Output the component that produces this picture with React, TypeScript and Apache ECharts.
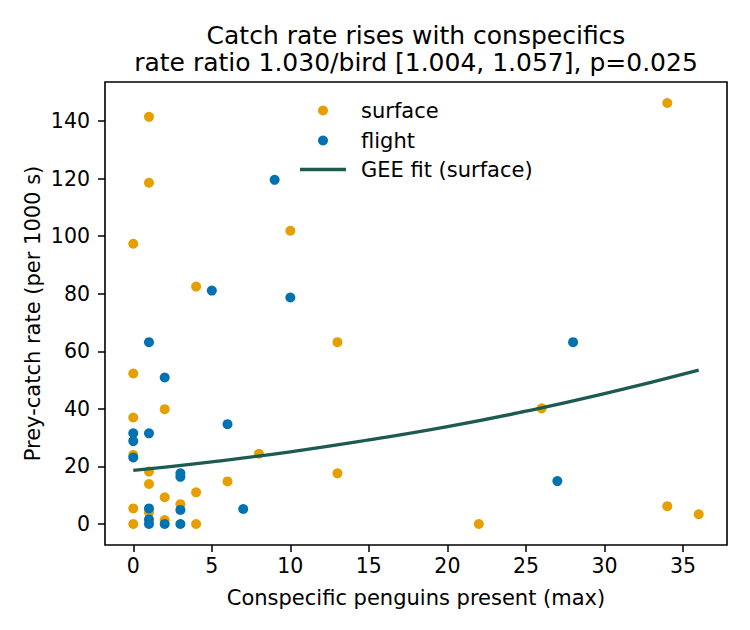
import React, { useRef, useEffect } from 'react';
import * as echarts from 'echarts';

// surface (orange) observations
const surfaceX = [0, 2, 0, 0, 1, 1, 2, 4, 3, 6, 8, 0, 1, 0, 2, 4, 1, 1, 0, 4, 10, 13, 34, 26, 13, 22, 34, 36];
const surfaceY = [52.3, 39.9, 37.0, 24.0, 18.2, 13.9, 9.3, 11.0, 6.9, 14.8, 24.4, 5.4, 4.0, 0, 1.4, 0, 141.5, 118.6, 97.4, 82.5, 101.9, 63.2, 146.3, 40.2, 17.6, 0, 6.2, 3.4];

// flight (blue) observations
const flightX = [1, 2, 0, 1, 0, 0, 6, 3, 3, 1, 3, 7, 1, 1, 2, 3, 9, 5, 10, 28, 27];
const flightY = [63.2, 50.9, 31.5, 31.5, 28.8, 23.1, 34.7, 17.6, 16.4, 5.4, 4.9, 5.2, 1.6, 0, 0, 0, 119.6, 81.1, 78.7, 63.2, 14.9];

// GEE fit curve
const fitX = [0, 5, 10, 15, 20, 25, 30, 36];
const fitY = [18.6, 21.6, 25.1, 29.2, 33.8, 39.2, 45.3, 53.5];

const xTicks = [0, 5, 10, 15, 20, 25, 30, 35];
const yTicks = [0, 20, 40, 60, 80, 100, 120, 140];

const titleLines = ['Catch rate rises with conspecifics', 'rate ratio 1.030/bird [1.004, 1.057], p=0.025'];

const ORANGE = '#E69F00';
const BLUE = '#0072B2';
const FIT = '#1d5b51';
const FONT = 'DejaVu Sans';

const App: React.FC = () => {
  const chartRef = useRef<HTMLDivElement>(null);

  useEffect(() => {
    document.body.style.margin = '0';
    if (!chartRef.current) return;
    const chart = echarts.init(chartRef.current, null, { renderer: 'svg' });

    const legendItems = [
      { label: 'surface', kind: 'dot', color: ORANGE, y: 110.5 },
      { label: 'flight', kind: 'dot', color: BLUE, y: 140.5 },
      { label: 'GEE fit (surface)', kind: 'line', color: FIT, y: 169.5 },
    ];

    const graphic: any[] = [
      ...titleLines.map((t, i) => ({
        type: 'text',
        x: 416,
        y: 35 + i * 27,
        style: { text: t, font: `25px "${FONT}"`, fill: '#000', textAlign: 'center', textVerticalAlign: 'middle' },
      })),
    ];
    legendItems.forEach((it) => {
      if (it.kind === 'dot') {
        graphic.push({ type: 'circle', shape: { cx: 323, cy: it.y, r: 5 }, style: { fill: it.color } });
      } else {
        graphic.push({ type: 'line', shape: { x1: 300, y1: it.y, x2: 346, y2: it.y }, style: { stroke: it.color, lineWidth: 3.3 } });
      }
      graphic.push({
        type: 'text',
        x: 361,
        y: it.y,
        style: { text: it.label, font: `21px "${FONT}"`, fill: '#000', textVerticalAlign: 'middle' },
      });
    });

    chart.setOption({
      animation: false,
      textStyle: { fontFamily: FONT },
      grid: {
        left: 105,
        right: 23,
        top: 82,
        bottom: 85,
        show: true,
        borderColor: '#000',
        borderWidth: 1.6,
        backgroundColor: 'transparent',
      },
      xAxis: {
        type: 'value',
        min: -1.8,
        max: 37.8,
        name: 'Conspecific penguins present (max)',
        nameLocation: 'middle',
        nameGap: 42,
        nameMoveOverlap: false,
        nameTextStyle: { fontSize: 21, color: '#000', fontFamily: FONT },
        axisLine: { show: false, onZero: false },
        splitLine: { show: false },
        axisTick: { show: true, inside: false, length: 7, customValues: xTicks, lineStyle: { color: '#000', width: 1.5 } },
        axisLabel: { customValues: xTicks, fontSize: 20.5, color: '#000', margin: 10, fontFamily: FONT },
      },
      yAxis: {
        type: 'value',
        min: -7.3,
        max: 153.6,
        name: 'Prey-catch rate (per 1000 s)',
        nameLocation: 'middle',
        nameGap: 62,
        nameMoveOverlap: false,
        nameTextStyle: { fontSize: 21, color: '#000', fontFamily: FONT },
        axisLine: { show: false, onZero: false },
        splitLine: { show: false },
        axisTick: { show: true, inside: false, length: 7, customValues: yTicks, lineStyle: { color: '#000', width: 1.5 } },
        axisLabel: { customValues: yTicks, fontSize: 20.5, color: '#000', margin: 15, fontFamily: FONT },
      },
      series: [
        {
          name: 'surface',
          type: 'scatter',
          symbolSize: 10,
          itemStyle: { color: ORANGE, opacity: 1 },
          data: surfaceX.map((x, i) => [x, surfaceY[i]]),
          z: 2,
        },
        {
          name: 'flight',
          type: 'scatter',
          symbolSize: 10,
          itemStyle: { color: BLUE, opacity: 1 },
          data: flightX.map((x, i) => [x, flightY[i]]),
          z: 3,
        },
        {
          name: 'GEE fit (surface)',
          type: 'line',
          smooth: true,
          showSymbol: false,
          lineStyle: { color: FIT, width: 3.3 },
          data: fitX.map((x, i) => [x, fitY[i]]),
          z: 4,
        },
      ],
      graphic,
    });

    return () => {
      chart.dispose();
    };
  }, []);

  return <div ref={chartRef} style={{ width: 750, height: 630 }} />;
};

export default App;
